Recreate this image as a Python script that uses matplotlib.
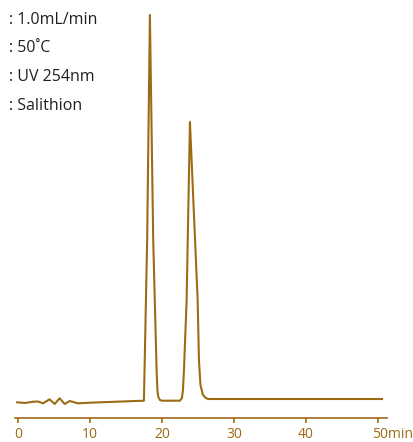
import matplotlib.pyplot as plt
from matplotlib.transforms import ScaledTranslation

plt.rcParams['font.family'] = ['Open Sans', 'DejaVu Sans']

gold = '#9c6b14'

# chromatogram: time (min) and detector signal
time = [-0.1, 0.97, 2.1, 2.8, 3.5, 4.4, 5.1, 5.8, 6.5, 7.2, 8.3, 10.0, 17.45,
        17.5, 17.95, 18.33, 18.79, 19.26, 19.37, 19.5, 19.72, 20.0,
        22.5, 22.78, 22.92, 23.06, 23.43, 23.89, 24.96, 25.14, 25.35, 25.7,
        26.1, 26.4, 50.55]
signal = [-0.3, -1.0, 0.3, 0.5, -1.3, 2.7, -2.0, 3.7, -2.0, 1.0, -1.3, -0.7, 1.3,
          1.3, 162, 387, 162, 32, 12, 5, 2, 1.3,
          1.3, 4, 12, 32, 102, 280, 102, 42, 17, 7,
          4, 3, 3]

conditions = [': 1.0mL/min', ': 50˚C', ': UV 254nm', ': Salithion']
ticks = [0, 10, 20, 30, 40, 50]
tick_labels = ['0', '10', '20', '30', '40', '50min']

fig = plt.figure(figsize=(4.14, 4.42), dpi=100)
ax = fig.add_axes([15 / 414, 24 / 442, 372 / 414, 408 / 442])

ax.plot(time, signal, color=gold, lw=1.5, solid_joinstyle='round')

ax.set_xlim(-0.4, 51.25)
ax.set_ylim(-16, 392)

for s in ['top', 'right', 'left']:
    ax.spines[s].set_visible(False)
ax.spines['bottom'].set_color(gold)
ax.spines['bottom'].set_linewidth(1.2)
ax.set_yticks([])
ax.set_xticks(ticks)
ax.set_xticklabels(tick_labels)
ax.tick_params(axis='x', colors=gold, length=3.5, width=1.2, pad=3, labelsize=10)

# "50min": keep the 50 centred on its tick
last = ax.get_xticklabels()[-1]
last.set_horizontalalignment('left')
last.set_transform(last.get_transform() + ScaledTranslation(-6 / 100, 0, fig.dpi_scale_trans))

for i, txt in enumerate(conditions):
    fig.text(9 / 414, 1 - (24 + 28.5 * i) / 442, txt, fontsize=11.5, color='#231f20',
             ha='left', va='baseline')

fig.savefig('out.png', dpi=100)
